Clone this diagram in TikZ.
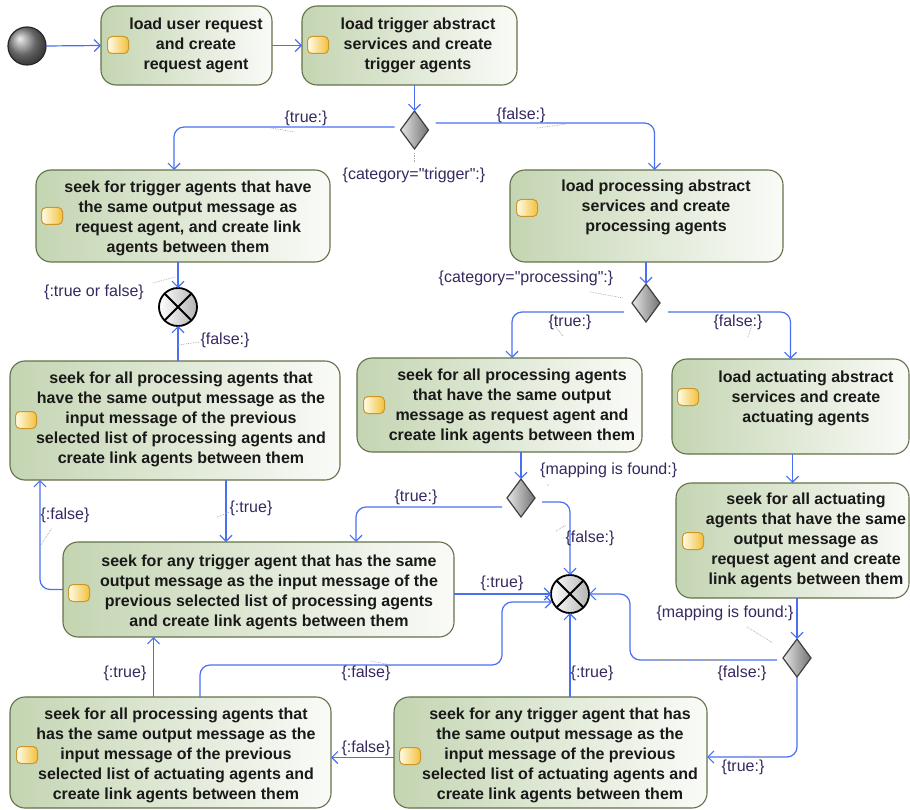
\documentclass[tikz,border=0pt]{standalone}
\usepackage{fontspec}
\setmainfont{Liberation Sans}
\newfontfamily\lblfont{Liberation Sans}
\usetikzlibrary{arrows.meta,shapes.geometric,calc}
\definecolor{conn}{RGB}{72,112,240}
\definecolor{boxL}{RGB}{196,213,178}
\definecolor{boxR}{RGB}{250,251,248}
\definecolor{boxB}{RGB}{98,114,72}
\definecolor{lbl}{RGB}{55,40,95}
\definecolor{pinB}{RGB}{205,150,40}
\definecolor{pinL}{RGB}{255,252,232}
\definecolor{pinR}{RGB}{243,192,60}
\begin{document}
\begin{tikzpicture}[x=1pt,y=-1pt,
  act/.style={draw=boxB, line width=1.1pt, rounded corners=15pt, left color=boxL, right color=boxR, inner sep=0pt, outer sep=0pt},
  txt/.style={align=center, inner sep=0pt, font=\bfseries\fontsize{16}{20}\selectfont, text=black!90},
  pin/.style={rectangle, rounded corners=4.5pt, draw=pinB, line width=1pt, left color=pinL, right color=pinR, minimum width=21pt, minimum height=17pt, inner sep=0pt},
  arr/.style={draw=conn, line width=1.2pt, rounded corners=10pt, -{Straight Barb[length=6pt,width=12pt]}},
  lab/.style={font=\lblfont\fontsize{16}{18}\selectfont, text=lbl, inner sep=0pt},
  leader/.style={draw=gray!70, densely dotted, line width=0.7pt},
  dec/.style={diamond, draw=black!75, line width=1.2pt, minimum width=28pt, minimum height=38pt, inner sep=0pt, outer sep=0pt, left color=white!80!gray, right color=black!55},
  merge/.style={circle, draw=black, line width=1.8pt, minimum size=38pt, inner sep=0pt, outer sep=0pt, left color=white, right color=black!30},
  startnode/.style={circle, draw=black!85, line width=1.2pt, minimum size=38pt, inner sep=0pt, outer sep=0pt, shading=ball, ball color=black!45}]
\useasboundingbox (0,0) rectangle (910,810);

% ---------- action boxes ----------
\node[act, minimum width=171pt, minimum height=79pt] (a1) at (186.5,45.5) {};
\node[act, minimum width=215pt, minimum height=79pt] (a2) at (409.5,45.5) {};
\node[act, minimum width=294pt, minimum height=92pt] (b1) at (183,216) {};
\node[act, minimum width=273pt, minimum height=92pt] (b2) at (646.5,216) {};
\node[act, minimum width=330pt, minimum height=119pt] (c1) at (175,420.5) {};
\node[act, minimum width=285pt, minimum height=94pt] (c2) at (499.5,405) {};
\node[act, minimum width=237pt, minimum height=95pt] (c3) at (790.5,406.5) {};
\node[act, minimum width=233pt, minimum height=115pt] (c4) at (792.5,540.5) {};
\node[act, minimum width=391pt, minimum height=95pt] (c5) at (258.5,589.5) {};
\node[act, minimum width=313pt, minimum height=111pt] (c6) at (550.5,752.5) {};
\node[act, minimum width=321pt, minimum height=111pt] (c7) at (170.5,752.5) {};

% ---------- texts ----------
\node[txt] (a1t) at (196,45) {load user request\\and create\\request agent};
\node[txt] (a2t) at (418,45) {load trigger abstract\\services and create\\trigger agents};
\node[txt] (b1t) at (188,218) {seek for trigger agents that have\\the same output message as\\request agent, and create link\\agents between them};
\node[txt] (b2t) at (656,207) {load processing abstract\\services and create\\processing agents};
\node[txt] (c1t) at (181,419) {seek for all processing agents that\\have the same output message as the\\input message of the previous\\selected list of processing agents and\\create link agents between them};
\node[txt] (c2t) at (512,406) {seek for all processing agents\\that have the same output\\message as request agent and\\create link agents between them};
\node[txt] (c3t) at (806,398) {load actuating abstract\\services and create\\actuating agents};
\node[txt] (c4t) at (806,540) {seek for all actuating\\agents that have the same\\output message as\\request agent and create\\link agents between them};
\node[txt] (c5t) at (269,592) {seek for any trigger agent that has the same\\output message as the input message of the\\previous selected list of processing agents\\and create link agents between them};
\node[txt] (c6t) at (560,755) {seek for any trigger agent that has\\the same output message as the\\input message of the previous\\selected list of actuating agents and\\create link agents between them};
\node[txt] (c7t) at (176,755) {seek for all processing agents that\\has the same output message as the\\input message of the previous\\selected list of actuating agents and\\create link agents between them};

% ---------- pins ----------
\node[pin] (a1p) at (118,45) {};
\node[pin] (a2p) at (318,45) {};
\node[pin] (b1p) at (52,216) {};
\node[pin] (b2p) at (527,208) {};
\node[pin] (c1p) at (26,420) {};
\node[pin] (c2p) at (374,405) {};
\node[pin] (c3p) at (688,397) {};
\node[pin] (c4p) at (693,541) {};
\node[pin] (c5p) at (79,593) {};
\node[pin] (c6p) at (410,756) {};
\node[pin] (c7p) at (27,755) {};

% ---------- control nodes ----------
\node[startnode] (s) at (27,46) {};
\node[dec] (d1) at (414.5,130) {};
\node[dec] (d2) at (646,303) {};
\node[dec] (d3) at (521,498) {};
\node[dec] (d4) at (797,658) {};
\node[merge] (m1) at (178,307) {};
\draw[line width=1.8pt] (m1.45) -- (m1.225) (m1.135) -- (m1.315);
\node[merge] (m2) at (570,594) {};
\draw[line width=1.8pt] (m2.45) -- (m2.225) (m2.135) -- (m2.315);

% ---------- helper coordinates ----------
\coordinate (p1) at ([xshift=-17pt]c7.north);
\coordinate (p2) at ([xshift=29.5pt]c7.north);
\coordinate (p3) at ([xshift=51pt]c1.south);
\coordinate (w1) at (502,665);

% ---------- connectors ----------
\draw[arr] (s.east) -- (a1.west);
\draw[arr] (a1.east) -- (a2.west);
\draw[arr] (d1.north |- a2.south) -- (d1.north);
\draw[arr] ([xshift=-6pt,yshift=3pt]d1.west) -| ([xshift=-9pt]b1.north);
\draw[arr] ([xshift=7pt,yshift=7pt]d1.east) -| ([xshift=8pt]b2.north);
\draw[arr] (m1.north |- b1.south) -- (m1.north);
\draw[arr] (m1.south |- c1.north) -- (m1.south);
\draw[arr] (d2.north |- b2.south) -- (d2.north);
\draw[arr] ([xshift=-8pt,yshift=-9pt]d2.west) -| ([xshift=12.5pt]c2.north);
\draw[arr] ([xshift=8pt,yshift=-9pt]d2.east) -| (c3.north);
\draw[arr] (d3.north |- c2.south) -- (d3.north);
\draw[arr] ([xshift=-5pt,yshift=-9pt]d3.west) -| ([xshift=97.5pt]c5.north);
\draw[arr] ([xshift=7pt,yshift=-4pt]d3.east) -| (m2.north);
\draw[arr] (c4.north |- c3.south) -- (c4.north);
\draw[arr] (d4.north |- c4.south) -- (d4.north);
\draw[arr] ([xshift=-6pt,yshift=-2pt]d4.west) -| ([xshift=41pt]m2.east) -- (m2.east);
\draw[arr] (d4.south) |- ([yshift=-4.5pt]c6.east);
\draw[arr] (m2.south |- c6.north) -- (m2.south);
\draw[arr] ([yshift=-5pt]c6.west) -- ([yshift=-5pt]c7.east);
\draw[arr] (p1) -- (p1 |- c5.south);
\draw[arr] (p2) |- (w1) |- ([xshift=1pt,yshift=-8pt]m2.west);
\draw[arr] (c5.east |- m2.west) -- (m2.west);
\draw[arr] (c5.west) -| ([xshift=-135pt]c1.south);
\draw[arr] (p3) -- (p3 |- c5.north);

% ---------- guard labels ----------
\node[lab] (l1) at (306,118) {\{true:\}};
\node[lab] (l2) at (521,115) {\{false:\}};
\node[lab] (l3) at (414,175) {\{category="trigger":\}};
\node[lab] (l4) at (94,292) {\{:true or false\}};
\node[lab] (l5) at (225,340) {\{false:\}};
\node[lab] (l6) at (526,278) {\{category="processing":\}};
\node[lab] (l7) at (570,322) {\{true:\}};
\node[lab] (l8) at (738,322) {\{false:\}};
\node[lab, anchor=west] (l9) at (540,470) {\{mapping is found:\}};
\node[lab] (l10) at (590,538) {\{false:\}};
\node[lab] (l11) at (502,583) {\{:true\}};
\node[lab] (l12) at (416,497) {\{true:\}};
\node[lab] (l13) at (251,508) {\{:true\}};
\node[lab] (l14) at (65,515) {\{:false\}};
\node[lab] (l15) at (725,613) {\{mapping is found:\}};
\node[lab] (l16) at (742,673) {\{false:\}};
\node[lab] (l17) at (743,767) {\{true:\}};
\node[lab] (l18) at (125,673) {\{:true\}};
\node[lab] (l19) at (366,673) {\{:false\}};
\node[lab] (l20) at (592,673) {\{:true\}};
\node[lab] (l21) at (366,748) {\{:false\}};

% ---------- dotted leaders ----------
\draw[leader] (265,127) -- (295,132);
\draw[leader] (537,128) -- (567,124);
\draw[leader] (414,153) -- (414,163);
\draw[leader] (153,283) -- (175,277);
\draw[leader] (178,345) -- (200,342);
\draw[leader] (590,292) -- (623,298);
\draw[leader] (555,326) -- (563,336);
\draw[leader] (752,325) -- (748,337);
\draw[leader] (547,484) -- (549,486);
\draw[leader] (556,531) -- (566,525);
\draw[leader] (217,517) -- (230,512);
\draw[leader] (41,545) -- (52,528);
\draw[leader] (747,627) -- (773,643);
\draw[leader] (650,660) -- (727,660);
\draw[leader] (745,756) -- (780,757);
\draw[leader] (370,661) -- (392,665);
\end{tikzpicture}
\end{document}
